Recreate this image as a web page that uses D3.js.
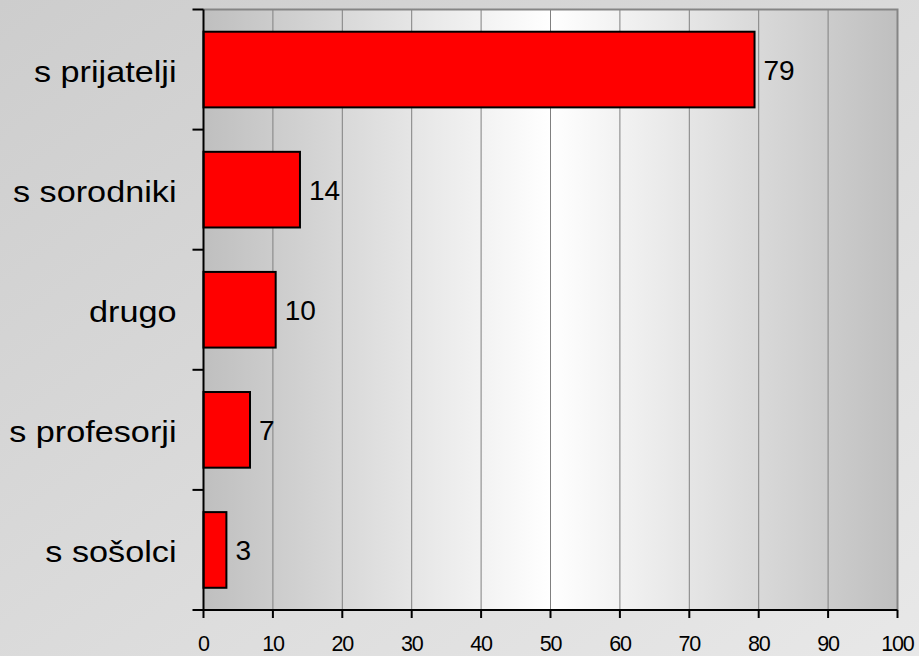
<!DOCTYPE html>
<html>
<head>
<meta charset="utf-8">
<script src="https://cdn.jsdelivr.net/npm/d3@7"></script>
<style>
  html, body { margin: 0; padding: 0; }
  body { width: 919px; height: 656px; overflow: hidden; }
  text { font-family: "Liberation Sans", Arial, sans-serif; fill: #000; }
</style>
</head>
<body>
<svg id="chart" width="919" height="656"></svg>
<script>
const categories = ["s prijatelji", "s sorodniki", "drugo", "s profesorji", "s sošolci"];
const values = [79.4, 13.9, 10.4, 6.7, 3.3];
const valueLabels = ["79", "14", "10", "7", "3"];
const xTicks = [0, 10, 20, 30, 40, 50, 60, 70, 80, 90, 100];

const W = 919, H = 656;
const margin = { left: 203.5, right: 21.5, top: 9.5, bottom: 46 };
const svg = d3.select("#chart");
const defs = svg.append("defs");

const bg = defs.append("linearGradient").attr("id", "bg")
  .attr("x1", "0").attr("y1", "0").attr("x2", "1").attr("y2", "1");
bg.append("stop").attr("offset", "0%").attr("stop-color", "#cdcdcd");
bg.append("stop").attr("offset", "100%").attr("stop-color", "#e8e8e8");

const pg = defs.append("linearGradient").attr("id", "plotbg")
  .attr("x1", "0").attr("y1", "0").attr("x2", "1").attr("y2", "0");
pg.append("stop").attr("offset", "0%").attr("stop-color", "#bfbfbf");
pg.append("stop").attr("offset", "50%").attr("stop-color", "#ffffff");
pg.append("stop").attr("offset", "100%").attr("stop-color", "#bfbfbf");

svg.append("rect").attr("width", W).attr("height", H).attr("fill", "url(#bg)");

const x = d3.scaleLinear().domain([0, 100]).range([margin.left, W - margin.right]);
const y = d3.scaleBand().domain(categories).range([margin.top, H - margin.bottom]).paddingInner(0.37).paddingOuter(0.185);
const yOuter = d3.scaleBand().domain(categories).range([margin.top, H - margin.bottom]);

// plot area
svg.append("rect")
  .attr("x", x(0)).attr("y", margin.top)
  .attr("width", x(100) - x(0)).attr("height", H - margin.bottom - margin.top)
  .attr("fill", "url(#plotbg)");

// grid lines
svg.append("g").selectAll("line").data(xTicks.filter(d => d > 0 && d < 100)).join("line")
  .attr("x1", d => x(d)).attr("x2", d => x(d))
  .attr("y1", margin.top).attr("y2", H - margin.bottom)
  .attr("stroke", "#808080").attr("stroke-width", 1);

// top and right border
svg.append("path")
  .attr("d", `M${x(0)},${margin.top}H${x(100)}V${H - margin.bottom}`)
  .attr("fill", "none").attr("stroke", "#858585").attr("stroke-width", 2);

// bars
svg.append("g").selectAll("rect").data(values).join("rect")
  .attr("x", x(0))
  .attr("y", (d, i) => y(categories[i]))
  .attr("width", d => x(d) - x(0))
  .attr("height", y.bandwidth())
  .attr("fill", "#ff0000")
  .attr("stroke", "#000").attr("stroke-width", 2);

// value labels
svg.append("g").selectAll("text").data(values).join("text")
  .attr("x", d => x(d) + 9)
  .attr("y", (d, i) => yOuter(categories[i]) + yOuter.bandwidth() / 2 + 10)
  .attr("font-size", 28)
  .text((d, i) => valueLabels[i]);

// y axis
const yAxis = svg.append("g");
yAxis.append("line")
  .attr("x1", x(0)).attr("x2", x(0))
  .attr("y1", margin.top).attr("y2", H - margin.bottom)
  .attr("stroke", "#000").attr("stroke-width", 2);
const bounds = categories.map(c => yOuter(c)).concat([H - margin.bottom]);
yAxis.selectAll("line.tk").data(bounds).join("line").attr("class", "tk")
  .attr("x1", x(0) - 11).attr("x2", x(0))
  .attr("y1", d => d).attr("y2", d => d)
  .attr("stroke", "#000").attr("stroke-width", 2);
yAxis.selectAll("text").data(categories).join("text")
  .attr("transform", d => `translate(${x(0) - 27},${yOuter(d) + yOuter.bandwidth() / 2 + 12}) scale(1.16,1)`)
  .attr("text-anchor", "end")
  .attr("font-size", 29.5)
  .text(d => d);

// x axis
const xAxis = svg.append("g");
xAxis.append("line")
  .attr("x1", x(0)).attr("x2", x(100))
  .attr("y1", H - margin.bottom).attr("y2", H - margin.bottom)
  .attr("stroke", "#000").attr("stroke-width", 2);
xAxis.selectAll("line.tk").data(xTicks).join("line").attr("class", "tk")
  .attr("x1", d => x(d)).attr("x2", d => x(d))
  .attr("y1", H - margin.bottom).attr("y2", H - margin.bottom + 8)
  .attr("stroke", "#000").attr("stroke-width", 2);
xAxis.selectAll("text").data(xTicks).join("text")
  .attr("x", d => x(d))
  .attr("y", H - margin.bottom + 41)
  .attr("text-anchor", "middle")
  .attr("font-size", 21.5)
  .attr("letter-spacing", -1.2)
  .text(d => d);
</script>
</body>
</html>
